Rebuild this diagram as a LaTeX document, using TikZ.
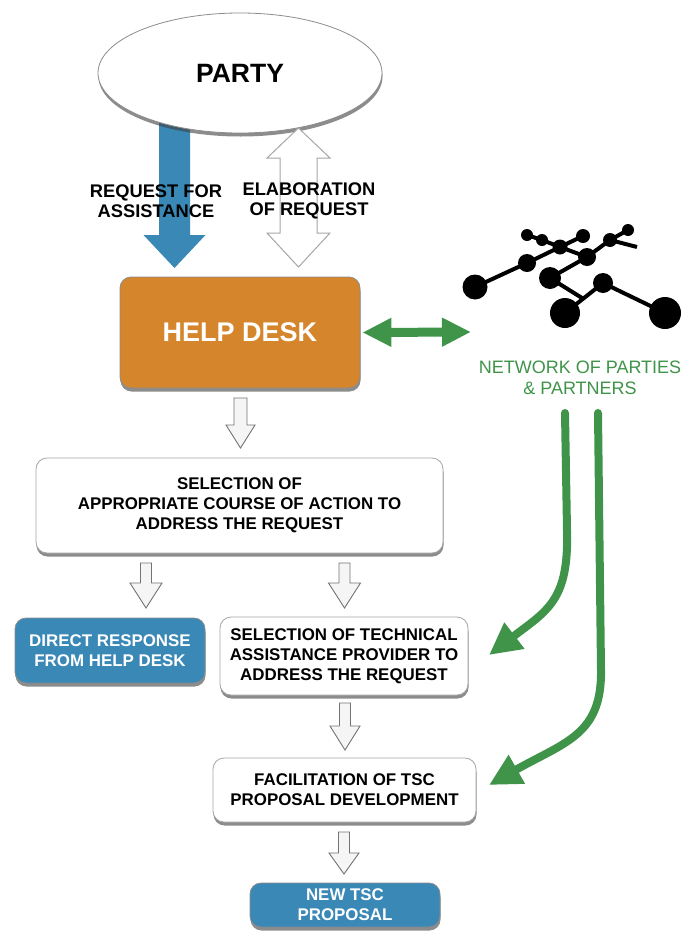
\documentclass[tikz,border=0pt]{standalone}
\usepackage{fontspec}
\setmainfont{Liberation Sans}
\usetikzlibrary{shapes.geometric,shadows,arrows.meta}
\definecolor{tscblue}{HTML}{3A88B6}
\definecolor{tscorange}{HTML}{D5852B}
\definecolor{tscgreen}{HTML}{3F9449}
\definecolor{arrfill}{HTML}{F4F5F4}
% #1 x centre, #2 top y, #3 tip y, #4 half shaft, #5 half head, #6 head length
\newcommand\BlkArrow[6]{%
  \draw[hollowarr] (#1-#4,#2) -- (#1+#4,#2) -- (#1+#4,#3-#6) -- (#1+#5,#3-#6)
    -- (#1,#3) -- (#1-#5,#3-#6) -- (#1-#4,#3-#6) -- cycle;}
\begin{document}
\begin{tikzpicture}[x=1pt,y=-1pt,
  shad/.style={drop shadow={shadow xshift=0.5pt,shadow yshift=-3.5pt,opacity=0.6,fill=black!75}},
  boxtxt/.style={font=\fontsize{16.9}{20}\selectfont\bfseries,align=center},
  whitebox/.style={shad,rectangle,rounded corners=11pt,draw=black!35,line width=0.8pt,fill=white,boxtxt,inner sep=0pt},
  bluebox/.style={shad,rectangle,rounded corners=11pt,draw=black!45,line width=0.8pt,fill=tscblue,text=white,boxtxt,inner sep=0pt},
  hollowarr/.style={draw=black!55,line width=0.9pt,fill=arrfill,line join=miter},
  greenline/.style={draw=tscgreen,line width=8pt},
  netline/.style={line width=4pt,black},
  lbl/.style={font=\fontsize{18.3}{20.5}\selectfont\bfseries,align=center}
]
\useasboundingbox (0,0) rectangle (686,932);
\fill[white] (0,0) rectangle (686,932);

% blue request arrow
\fill[tscblue] (159,110) -- (190,110) -- (190,235) -- (205.5,235) -- (174.5,268)
  -- (143.5,235) -- (159,235) -- cycle;

% PARTY ellipse
\node[shad,ellipse,draw=black!45,line width=0.8pt,fill=white,minimum width=284pt,minimum height=120pt,
  font=\fontsize{26.5}{30}\selectfont\bfseries] (party) at (240,73) {PARTY};

% white double arrow
\draw[draw=black!35,line width=1pt,fill=white,line join=miter] (298.5,128) -- (330,158) -- (317,158) -- (317,233)
  -- (330,233) -- (298.5,267) -- (267,233) -- (280,233) -- (280,158) -- (267,158) -- cycle;

\node[lbl] (req) at (156,201) {REQUEST FOR\\ASSISTANCE};
\node[lbl] (elab) at (309,201) {ELABORATION\\OF REQUEST};

% help desk
\node[shad,rectangle,rounded corners=11pt,draw=black!45,line width=0.8pt,fill=tscorange,text=white,
  minimum width=240pt,minimum height=111pt,font=\fontsize{27}{30}\selectfont\bfseries] (hd) at (240,332.5) {HELP DESK};

% network icon
\coordinate (nA) at (475,287);
\coordinate (nB) at (527,263);
\coordinate (nC) at (527,235);
\coordinate (nD) at (542,240);
\coordinate (nE) at (560,247);
\coordinate (nF) at (583,236);
\coordinate (nG) at (587,257);
\coordinate (nH) at (610,240);
\coordinate (nI) at (628,230);
\coordinate (nS) at (637,247);
\coordinate (nJ) at (550,278);
\coordinate (nK) at (603,283);
\coordinate (nL) at (565,313);
\coordinate (nM) at (665,313);
\coordinate (nP) at (582,298);
\draw[netline] (nA) -- (nB) -- (nE) -- (nF);
\draw[netline] (nC) -- (nD) -- (nE) -- (nG);
\draw[netline] (nJ) -- (nG) -- (nH) -- (nI);
\draw[netline] (nH) -- (nS);
\draw[netline] (nJ) -- (nP);
\draw[netline] (nL) -- (nK) -- (nM);
\fill (nA) circle (12.5);
\fill (nB) circle (9);
\fill (nC) circle (6);
\fill (nD) circle (6);
\fill (nE) circle (7.5);
\fill (nF) circle (7);
\fill (nG) circle (9);
\fill (nH) circle (7);
\fill (nI) circle (6);
\fill (nJ) circle (11);
\fill (nK) circle (10);
\fill (nL) circle (15);
\fill (nM) circle (16);

\node[font=\fontsize{18}{21}\selectfont,text=tscgreen,align=center] (netlbl) at (580,377.5)
  {NETWORK OF PARTIES\\\& PARTNERS};

% green double arrow help desk <-> network
\coordinate (netin) at (471,332);
\draw[draw=tscgreen,line width=9pt,{Triangle[width=27pt,length=29pt]}-{Triangle[width=27pt,length=29pt]}]
  ([xshift=2pt]hd.east) -- (netin);

% boxes
\node[whitebox,minimum width=407pt,minimum height=95pt] (sel) at (239.5,505.5)
  {SELECTION OF\\APPROPRIATE COURSE OF ACTION TO\\ADDRESS THE REQUEST};
\node[bluebox,minimum width=190pt,minimum height=65pt] (direct) at (110,650.5)
  {DIRECT RESPONSE\\FROM HELP DESK};
\node[whitebox,minimum width=248pt,minimum height=78pt] (tech) at (344,656)
  {SELECTION OF TECHNICAL\\ASSISTANCE PROVIDER TO\\ADDRESS THE REQUEST};
\node[whitebox,minimum width=263pt,minimum height=64pt] (facil) at (344.5,790)
  {FACILITATION OF TSC\\PROPOSAL DEVELOPMENT};
\node[bluebox,minimum width=190pt,minimum height=44pt] (newp) at (345,905)
  {NEW TSC\\PROPOSAL};

% hollow flow arrows
\BlkArrow{240.5}{398}{448}{6.5}{14.5}{23}
\BlkArrow{146}{563}{608}{5.5}{16}{25}
\BlkArrow{344.5}{563}{608}{5.5}{16}{25}
\BlkArrow{345}{703}{750}{5.5}{15}{24}
\BlkArrow{344}{832}{874}{5.5}{15}{21}

% green curved arrows from network
\coordinate (g1s) at (565,413);
\coordinate (g1e) at (489,655);
\coordinate (g2s) at (598,413);
\coordinate (g2e) at (489,785);
\draw[greenline,line cap=round,-{Triangle[width=31pt,length=32pt]}]
  (g1s) -- (567,530) .. controls (569,600) and (548,610) .. (g1e);
\draw[greenline,line cap=round,-{Triangle[width=31pt,length=32pt]}]
  (g2s) -- (601,670) .. controls (602,735) and (565,742) .. (g2e);
\end{tikzpicture}
\end{document}
